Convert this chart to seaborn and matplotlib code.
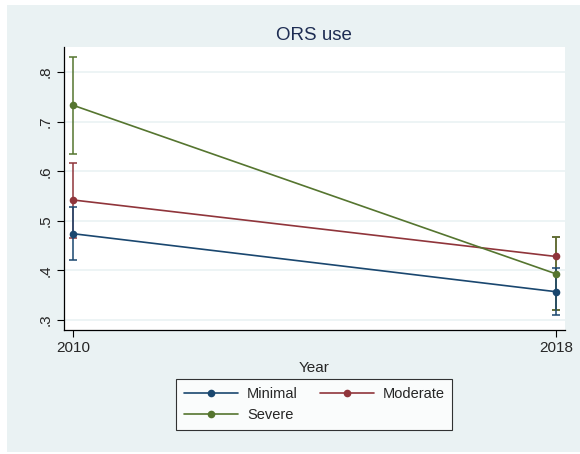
import matplotlib
matplotlib.use("Agg")
import matplotlib.pyplot as plt
import seaborn as sns
import pandas as pd

years = [2010, 2018]
groups = ["Minimal", "Moderate", "Severe"]
minimal = [0.474, 0.357]
moderate = [0.542, 0.428]
severe = [0.733, 0.393]
minimal_lo = [0.421, 0.311]
minimal_hi = [0.528, 0.404]
moderate_lo = [0.465, 0.320]
moderate_hi = [0.616, 0.468]
severe_lo = [0.635, 0.320]
severe_hi = [0.830, 0.468]
yticks = [0.3, 0.4, 0.5, 0.6, 0.7, 0.8]
ytick_labels = [".3", ".4", ".5", ".6", ".7", ".8"]

colors = {"Minimal": "#1a476f", "Moderate": "#90353b", "Severe": "#55752f"}

rows = []
for g, vals, lo, hi in [("Minimal", minimal, minimal_lo, minimal_hi),
                        ("Moderate", moderate, moderate_lo, moderate_hi),
                        ("Severe", severe, severe_lo, severe_hi)]:
    for y, v, l, h in zip(years, vals, lo, hi):
        rows.append({"Year": y, "group": g, "value": v, "lo": l, "hi": h})
df = pd.DataFrame(rows)

sns.set_style("white")
plt.rcParams["font.family"] = ["Liberation Sans", "DejaVu Sans"]

BG = "#eaf2f3"
fig = plt.figure(figsize=(5.8, 4.54), dpi=100)
fig.patch.set_facecolor("white")
fig.patches.append(plt.Rectangle((7 / 580, 1 - 452 / 454), 573 / 580, 447 / 454,
                                 transform=fig.transFigure, facecolor=BG,
                                 edgecolor="none", zorder=-10))
ax = fig.add_axes([63.5 / 580, (454 - 330) / 454, (565 - 63.5) / 580, (330 - 47) / 454])
ax.set_facecolor("white")

for g, z in [("Moderate", 3.0), ("Severe", 3.1), ("Minimal", 3.2)]:
    sub = df[df.group == g]
    ax.errorbar(sub.Year, sub.value,
                yerr=[sub.value - sub.lo, sub.hi - sub.value],
                fmt="none", ecolor=colors[g], elinewidth=1.1, capsize=3.2,
                capthick=1.1, zorder=z)

sns.lineplot(data=df, x="Year", y="value", hue="group", hue_order=groups,
             palette=colors, marker="o", markersize=5.5, markeredgewidth=0,
             linewidth=1.2, ax=ax, zorder=4, errorbar=None)

ax.set_xlim(2009.843, 2018.149)
ax.set_ylim(0.2798, 0.8504)
ax.set_xticks(years)
ax.set_xticklabels([str(y) for y in years], fontsize=11)
ax.set_yticks(yticks)
ax.set_yticklabels(ytick_labels, fontsize=11, rotation=90, va="center")
ax.tick_params(axis="both", direction="out", length=5, width=0.8, color="black",
               left=True, bottom=True, pad=3)
ax.yaxis.grid(True, color=BG, linewidth=1.2)
ax.xaxis.grid(False)
for s in ["top", "right"]:
    ax.spines[s].set_visible(False)
for s in ["left", "bottom"]:
    ax.spines[s].set_color("black")
    ax.spines[s].set_linewidth(0.9)

ax.set_xlabel("Year", fontsize=11, labelpad=4)
ax.set_ylabel("")
ax.set_title("ORS use", fontsize=13.5, color="#1e2d53", pad=5)

handles, labels = ax.get_legend_handles_labels()
hmap = dict(zip(labels, handles))
order = ["Minimal", "Severe", "Moderate"]
leg = ax.legend([hmap[k] for k in order], order, loc="upper center",
                bbox_to_anchor=(0.5, -0.147),
                ncol=2, fontsize=10.5, frameon=True, fancybox=False,
                edgecolor="black", handlelength=3.7, columnspacing=1.5,
                borderpad=0.55, labelspacing=0.5, handletextpad=0.6)
leg.get_frame().set_linewidth(0.8)

fig.savefig("out.png", dpi=100, facecolor=fig.get_facecolor())
